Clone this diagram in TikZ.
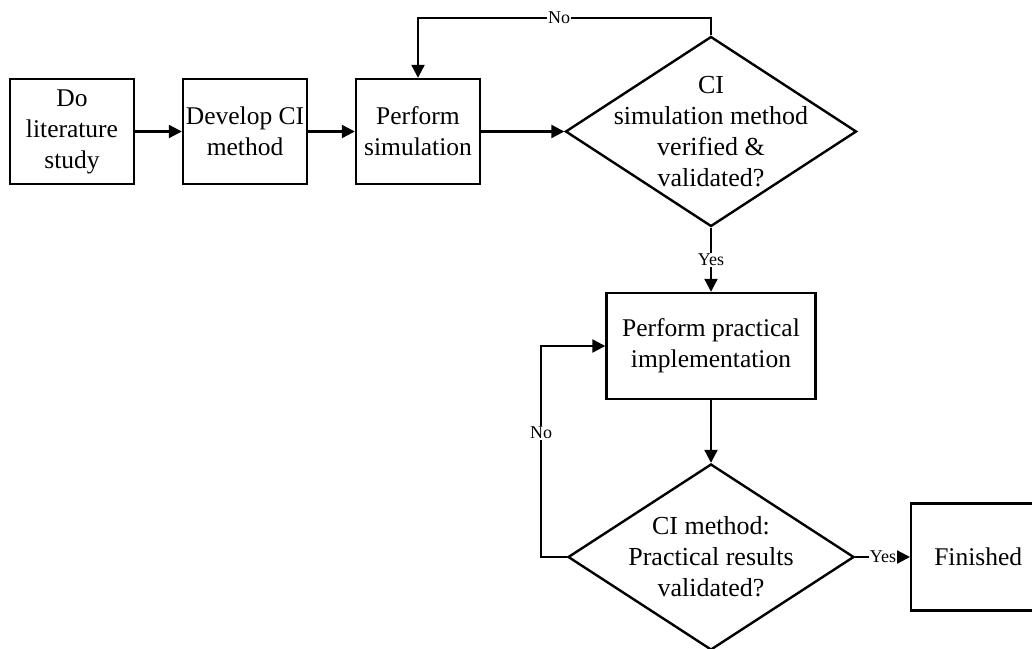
\documentclass[tikz,border=0pt]{standalone}
\usepackage{fontspec}
\setmainfont{Liberation Serif}
\usetikzlibrary{arrows.meta,shapes.geometric}
\tikzset{
  box/.style={draw, line width=2.4pt, rectangle, align=center, inner sep=0pt,
    font=\fontsize{25.5}{31}\selectfont},
  dec/.style={draw, line width=2.4pt, diamond, inner sep=0pt},
  dtext/.style={align=center, inner sep=0pt, font=\fontsize{26}{31}\selectfont},
  conn/.style={line width=2.2pt, -{Triangle[length=13pt,width=13pt]}},
  lbl/.style={fill=white, inner sep=1pt, font=\fontsize{18}{20}\selectfont}
}
\begin{document}
\begin{tikzpicture}[x=1pt,y=-1pt]
\clip (0,0) rectangle (1032,648);
\node[box, minimum width=124pt, minimum height=105pt] (b1) at (72,131.5) {Do\\literature\\study};
\node[box, minimum width=124pt, minimum height=105pt] (b2) at (245,131.5) {Develop CI\\method};
\node[box, minimum width=124pt, minimum height=105pt] (b3) at (418,131.5) {Perform\\simulation};
\node[dec, minimum width=291pt, minimum height=190pt] (d1) at (711,131.5) {};
\node[dtext] (d1t) at (711,131.5) {CI\\simulation method\\verified \&\\validated?};
\node[box, minimum width=209pt, minimum height=106pt] (b4) at (711,346) {Perform practical\\implementation};
\node[dec, minimum width=286pt, minimum height=186pt] (d2) at (711,557) {};
\node[dtext] (d2t) at (711,557) {CI method:\\Practical results\\validated?};
\node[box, minimum width=134pt, minimum height=107pt, anchor=west] (fin) at (910,557) {Finished};
\coordinate (c1) at (711,18);
\coordinate (c2) at (418,18);
\coordinate (c3) at (541,557);
\coordinate (c4) at (541,346);
\draw[conn] (b1.east) -- (b2.west);
\draw[conn] (b2.east) -- (b3.west);
\draw[conn] (b3.east) -- (d1.west);
\draw[conn] (d1.north) -- (c1) -- (c2) -- (b3.north);
\node[lbl] (no1) at (559,18) {No};
\draw[conn] (d1.south) -- (b4.north);
\node[lbl] (yes1) at (711,260) {Yes};
\draw[conn] (b4.south) -- (d2.north);
\draw[conn] (d2.west) -- (c3) -- (c4) -- (b4.west);
\node[lbl] (no2) at (541,433) {No};
\draw[conn] (d2.east) -- (fin.west);
\node[lbl, inner sep=0.5pt] (yes2) at (883,557) {Yes};
\end{tikzpicture}
\end{document}
